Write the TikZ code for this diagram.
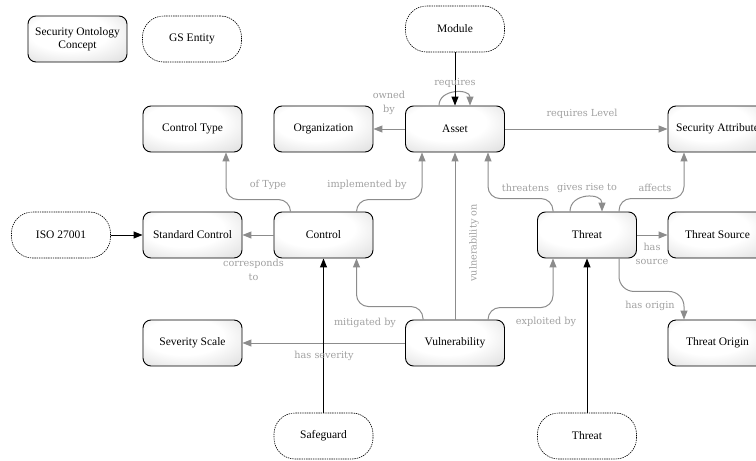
\documentclass[tikz,border=0pt]{standalone}
\usepackage{fontspec}
\setmainfont{Liberation Serif}
\newfontfamily\lblfont{DejaVu Serif}
\usetikzlibrary{arrows.meta}
\definecolor{relgray}{RGB}{140,140,140}
\definecolor{lblgray}{RGB}{160,160,160}
\pgfdeclareradialshading{boxshade}{\pgfpoint{-6bp}{10bp}}{color(0bp)=(white); color(20bp)=(white); color(46bp)=(black!17); color(68bp)=(black!32)}
\begin{document}
\begin{tikzpicture}[x=1pt,y=-1pt,
 concept/.style={draw=black, line width=0.9pt, rounded corners=8pt, minimum width=99pt, minimum height=46pt, inner sep=2pt, shading=boxshade, font=\fontsize{11.5}{13.5}\selectfont, align=center},
 gsent/.style={draw=black, line width=0.6pt, dash pattern=on 1.4pt off 0.9pt, rounded corners=21pt, minimum width=99pt, minimum height=46pt, fill=white, inner sep=2pt, font=\fontsize{11.5}{13.5}\selectfont, align=center},
 rel/.style={draw=relgray, line width=1pt, -{Triangle[length=9pt,width=7pt]}},
 ext/.style={draw=black, line width=1pt, -{Triangle[length=9pt,width=7pt]}},
 lbl/.style={text=lblgray, font=\lblfont\fontsize{9.7}{13.5}\selectfont, inner sep=0pt, align=center},
 elbow/.style={rounded corners=12pt},
]
\clip (0,0) rectangle (756,461);
% nodes
\node[concept] (soc) at (77.5,39) {Security Ontology\\Concept};
\node[gsent] (gs) at (192,39) {GS Entity};
\node[gsent] (module) at (455,29) {Module};
\node[concept] (asset) at (455,129) {Asset};
\node[concept] (ctype) at (192.5,129) {Control Type};
\node[concept] (org) at (323.5,129) {Organization};
\node[concept] (secattr) at (717.5,129) {Security Attribute};
\node[gsent] (iso) at (61,235) {ISO 27001};
\node[concept] (stdctrl) at (192.5,235) {Standard Control};
\node[concept] (ctrl) at (323.5,235) {Control};
\node[concept] (threat) at (587,235) {Threat};
\node[concept] (tsource) at (717.5,235) {Threat Source};
\node[concept] (sev) at (192.5,343) {Severity Scale};
\node[concept] (vuln) at (455,343) {Vulnerability};
\node[concept] (torigin) at (717.5,343) {Threat Origin};
\node[gsent] (safeguard) at (323.5,436) {Safeguard};
\node[gsent] (gthreat) at (587,436) {Threat};
% connectors
\draw[rel] (asset) -- (org);
\draw[rel] ([xshift=-16pt]asset.north) .. controls +(0,-17) and +(0,-17) .. ([xshift=15pt]asset.north);
\draw[ext] (module) -- (asset);
\draw[rel] (asset) -- (secattr);
\draw[rel, elbow] ([xshift=-33pt]ctrl.north) -- ++(0,-12) -| ([xshift=33.5pt]ctype.south);
\draw[rel, elbow] ([xshift=33pt]ctrl.north) -- ++(0,-12) -| ([xshift=-33pt]asset.south);
\draw[rel, elbow] ([xshift=-34pt]threat.north) -- ++(0,-13) -| ([xshift=33pt]asset.south);
\draw[rel] ([xshift=-17pt]threat.north) .. controls +(0,-19) and +(0,-19) .. ([xshift=15pt]threat.north);
\draw[rel, elbow] ([xshift=32pt]threat.north) -- ++(0,-13) -| ([xshift=-33.5pt]secattr.south);
\draw[rel] (threat) -- (tsource);
\draw[rel, rounded corners=15pt] ([xshift=32pt]threat.south) -- ++(0,33) -| ([xshift=-33.5pt]torigin.north);
\draw[rel] (ctrl) -- (stdctrl);
\draw[ext] (iso) -- (stdctrl);
\draw[rel, elbow] ([xshift=-32pt]vuln.north) -- ++(0,-13) -| ([xshift=33pt]ctrl.south);
\draw[rel, elbow] ([xshift=33pt]vuln.north) -- ++(0,-12) -| ([xshift=-34pt]threat.south);
\draw[rel] (vuln) -- (asset);
\draw[rel] (vuln) -- (sev);
\draw[ext] (safeguard) -- (ctrl);
\draw[ext] (gthreat) -- (threat);
% labels
\node[lbl] (l-owned) at (389,103) {owned\\by};
\node[lbl] (l-req) at (455,83) {requires};
\node[lbl] (l-reqlvl) at (582,114) {requires Level};
\node[lbl] (l-oftype) at (268,185) {of Type};
\node[lbl] (l-impl) at (367,185) {implemented by};
\node[lbl] (l-threatens) at (525.5,188) {threatens};
\node[lbl] (l-gives) at (587,188) {gives rise to};
\node[lbl] (l-affects) at (655,188) {affects};
\node[lbl] (l-corr) at (253.5,270) {corresponds\\to};
\node[lbl] (l-src) at (652,254) {has\\source};
\node[lbl] (l-vulnon) at (474,243) [rotate=90] {vulnerability on};
\node[lbl] (l-mitig) at (365,323) {mitigated by};
\node[lbl] (l-sev) at (324,356) {has severity};
\node[lbl] (l-expl) at (546,322) {exploited by};
\node[lbl] (l-origin) at (650,306) {has origin};
\end{tikzpicture}
\end{document}
